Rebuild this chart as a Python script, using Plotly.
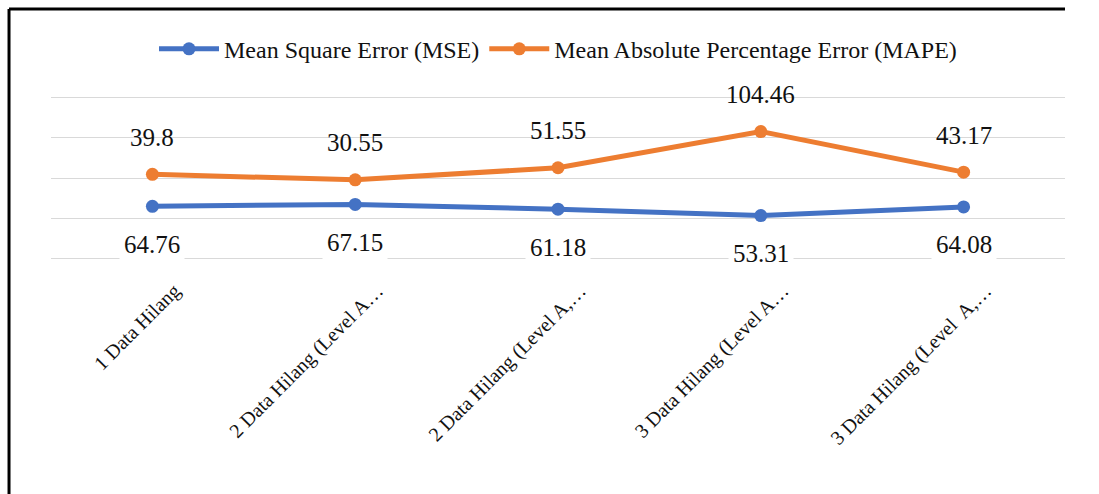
import plotly.graph_objects as go

# Categories (axis labels are shown truncated, as in the source workbook)
categories = [
    "1 Data Hilang",
    "2 Data Hilang (Level A…",
    "2 Data Hilang (Level A,…",
    "3 Data Hilang (Level A…",
    "3 Data Hilang (Level\u00a0 A,…",
]
mse_values = [64.76, 67.15, 61.18, 53.31, 64.08]
mape_values = [39.8, 30.55, 51.55, 104.46, 43.17]

series_names = ["Mean Square Error (MSE)", "Mean Absolute Percentage Error (MAPE)"]
series_colors = ["#4472C4", "#ED7D31"]

FONT = "Liberation Serif"
TEXT_COLOR = "#111111"
LABEL_FONT = dict(family=FONT, size=25, color=TEXT_COLOR)

fig = go.Figure()

# Stacked lines: MAPE is drawn on top of MSE
for name, vals, color in zip(series_names, [mse_values, mape_values], series_colors):
    fig.add_trace(go.Scatter(
        x=categories, y=vals, name=name,
        mode="lines+markers",
        stackgroup="one", fill="none",
        line=dict(color=color, width=5),
        marker=dict(color=color, size=13),
    ))

# Data labels: MSE below its line (white box over the baseline grid),
# MAPE above the stacked line
annotations = []
stacked_top = [a + b for a, b in zip(mse_values, mape_values)]
for cat, v in zip(categories, mse_values):
    annotations.append(dict(
        x=cat, y=v, xref="x", yref="y", text=f"{v:g}", showarrow=False,
        yshift=-38, font=LABEL_FONT, bgcolor="white", borderpad=4,
    ))
for cat, v, top in zip(categories, mape_values, stacked_top):
    annotations.append(dict(
        x=cat, y=top, xref="x", yref="y", text=f"{v:g}", showarrow=False,
        yshift=37, font=LABEL_FONT,
    ))

# px per data unit ~0.805; range padded so the 0 and 200 gridlines are kept
fig.update_layout(
    width=1099, height=494,
    margin=dict(l=50.5, r=33.5, t=95.9, b=233.9),
    paper_bgcolor="white", plot_bgcolor="white",
    font=dict(family=FONT, color=TEXT_COLOR),
    showlegend=True,
    legend=dict(
        orientation="h", x=0.5, xanchor="center", y=1.285, yanchor="middle",
        font=dict(family=FONT, size=24, color=TEXT_COLOR),
        itemwidth=60, bgcolor="rgba(0,0,0,0)", traceorder="normal",
    ),
    annotations=annotations,
    # chart frame: top and left edges
    shapes=[
        dict(type="line", xref="paper", yref="paper",
             x0=-0.0414, x1=1.0, y0=1.53, y1=1.53,
             line=dict(color="black", width=3), layer="above"),
        dict(type="line", xref="paper", yref="paper",
             x0=-0.0414, x1=-0.0414, y0=-2.0, y1=1.53,
             line=dict(color="black", width=3), layer="above"),
    ],
)

fig.update_xaxes(
    type="category", range=[-0.5, 4.5],
    showgrid=False, zeroline=False, showline=False, ticks="",
    tickangle=-45, tickfont=dict(family=FONT, size=20, color=TEXT_COLOR),
    ticklabelstandoff=14, ticklabelshift=22,
)
fig.update_yaxes(
    range=[-2, 202], tickvals=[0, 50, 100, 150, 200], showticklabels=False,
    showgrid=True, gridcolor="#d9d9d9", gridwidth=1.3,
    zeroline=False, showline=False, ticks="",
)

fig.write_html("out.html")
